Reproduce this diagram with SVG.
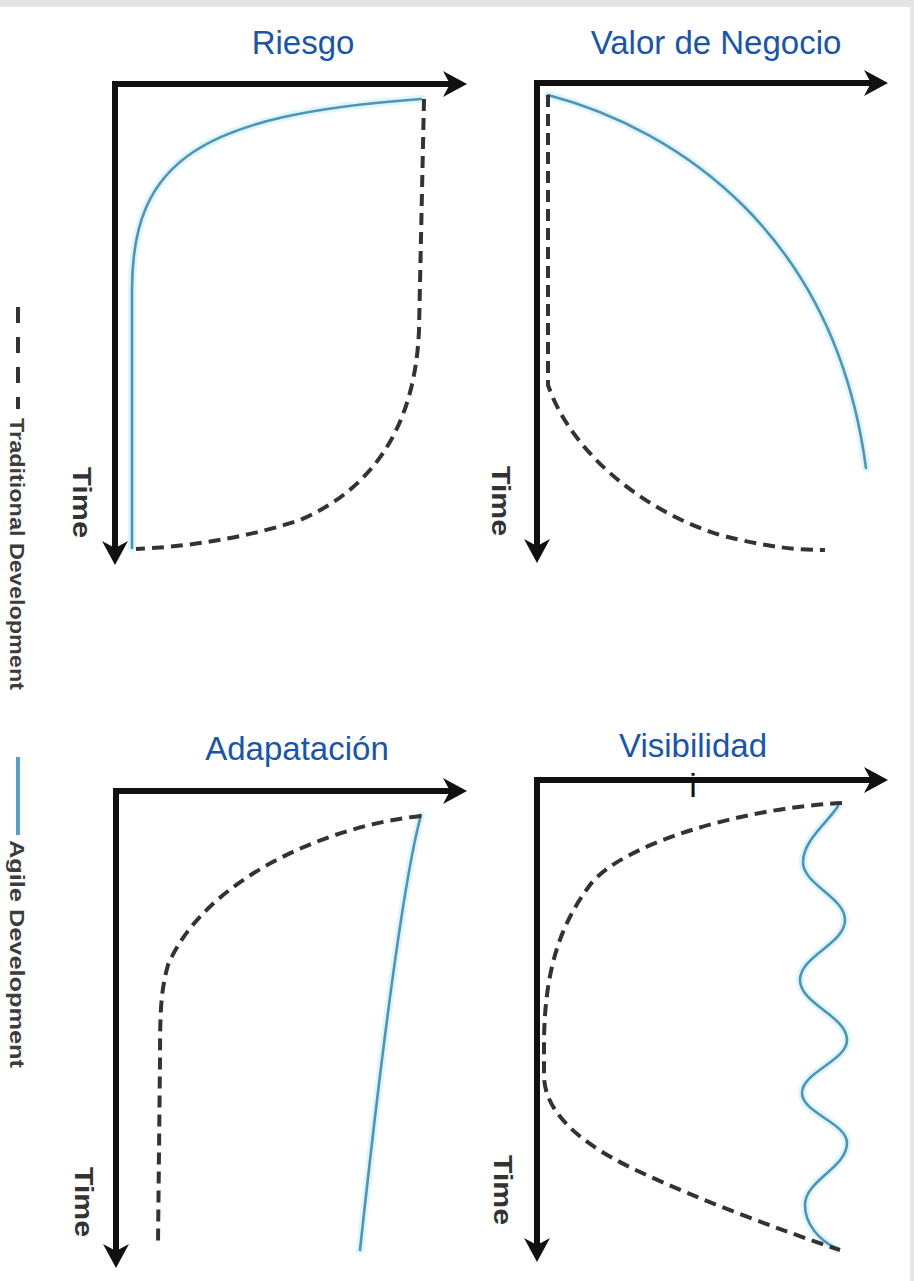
<svg xmlns="http://www.w3.org/2000/svg" width="914" height="1281" viewBox="0 0 914 1281">
  <style>
    .title { font-family: "Liberation Sans", Arial, sans-serif; font-size: 33px; fill: #1a55a6; text-anchor: middle; }
    .time { font-family: "Liberation Sans", Arial, sans-serif; font-size: 26px; font-weight: bold; fill: #333333; }
    .legend { font-family: "Liberation Sans", Arial, sans-serif; font-size: 20px; font-weight: bold; fill: #3c3c3c; }
    .axis { fill: none; stroke: #111111; stroke-width: 6; stroke-linejoin: miter; marker-start: url(#ah); marker-end: url(#ah); }
    .trad { fill: none; stroke: #333333; stroke-width: 4; stroke-dasharray: 12 7; }
    .halo { fill: none; stroke: #dff5fa; stroke-width: 8; stroke-linecap: round; }
    .agile { fill: none; stroke: #4f93b6; stroke-width: 2.6; stroke-linecap: round; }
  </style>
  <defs>
    <marker id="ah" viewBox="0 0 28 28" refX="14" refY="14" markerWidth="28" markerHeight="28" markerUnits="userSpaceOnUse" orient="auto-start-reverse">
      <path d="M26,14 L2,1 L9,14 L2,27 Z" fill="#111111"/>
    </marker>
  </defs>
  <rect x="0" y="0" width="914" height="1281" fill="#ffffff"/>
  <rect x="0" y="0" width="914" height="7" fill="#e4e4e4"/>
  <rect x="910" y="0" width="4" height="1281" fill="#e6e6e6"/>

  <g id="legend">
    <path d="M18,307 L18,409" stroke="#333333" stroke-width="4" stroke-dasharray="16 14" fill="none"/>
    <text class="legend" transform="translate(10,418) rotate(90)" textLength="272" lengthAdjust="spacingAndGlyphs">Traditional Development</text>
    <path d="M18,757 L18,835" stroke="#5b9fc4" stroke-width="4" fill="none"/>
    <text class="legend" transform="translate(10,840) rotate(90)" textLength="228" lengthAdjust="spacingAndGlyphs">Agile Development</text>
  </g>

  <g id="chart-riesgo">
    <text class="title" x="303" y="54">Riesgo</text>
    <path class="axis" d="M115,553 L115,84 L455,84"/>
    <text class="time" transform="translate(73,467) rotate(90)" textLength="71" lengthAdjust="spacingAndGlyphs">Time</text>
    <path class="halo" d="M132,548 L132,290 C132,160 200,115 421,99"/>
    <path class="agile" d="M132,548 L132,290 C132,160 200,115 421,99"/>
    <path class="trad" d="M424,99 L419,330 C415,430 370,490 300,520 C240,540 180,547 136,549"/>
  </g>

  <g id="chart-valor">
    <text class="title" x="716" y="54">Valor de Negocio</text>
    <path class="axis" d="M537,551 L537,83 L876,83"/>
    <text class="time" transform="translate(492,466) rotate(90)" textLength="70" lengthAdjust="spacingAndGlyphs">Time</text>
    <path class="halo" d="M548,95 C680,130 835,235 866,468"/>
    <path class="agile" d="M548,95 C680,130 835,235 866,468"/>
    <path class="trad" d="M548,95 L548,385 C570,450 640,510 720,535 C770,548 800,550 825,550"/>
  </g>

  <g id="chart-adaptacion">
    <text class="title" x="297" y="760">Adapatación</text>
    <path class="axis" d="M116,1256 L116,791 L455,791"/>
    <text class="time" transform="translate(75,1167) rotate(90)" textLength="70" lengthAdjust="spacingAndGlyphs">Time</text>
    <path class="halo" d="M421,815 Q398,900 360,1250"/>
    <path class="agile" d="M421,815 Q398,900 360,1250"/>
    <path class="trad" d="M421,816 C330,825 205,878 168,965 C161,990 160,1010 160,1060 L158,1245"/>
  </g>

  <g id="chart-visibilidad">
    <text class="title" x="693" y="757">Visibilidad</text>
    <path class="axis" d="M537,1250 L537,780 L876,780"/>
    <text x="693" y="797" font-family="Liberation Sans, Arial, sans-serif" font-size="34" fill="#111111" text-anchor="middle">i</text>
    <text class="time" transform="translate(494,1155) rotate(90)" textLength="70" lengthAdjust="spacingAndGlyphs">Time</text>
    <path class="halo" d="M838,806 C830,820 803,840 803,862 C803,885 845,897 845,920 C845,944 800,956 800,980 C800,1004 847,1016 847,1040 C847,1061 802,1072 802,1093 C802,1113 847,1123 847,1143 C847,1168 805,1180 805,1205 C805,1225 820,1240 835,1248"/>
    <path class="agile" d="M838,806 C830,820 803,840 803,862 C803,885 845,897 845,920 C845,944 800,956 800,980 C800,1004 847,1016 847,1040 C847,1061 802,1072 802,1093 C802,1113 847,1123 847,1143 C847,1168 805,1180 805,1205 C805,1225 820,1240 835,1248"/>
    <path class="trad" d="M842,803 C740,808 620,845 590,885 C560,925 545,970 544,1040 L544,1075 C544,1100 560,1135 640,1172 C700,1200 780,1230 840,1250"/>
  </g>
</svg>
